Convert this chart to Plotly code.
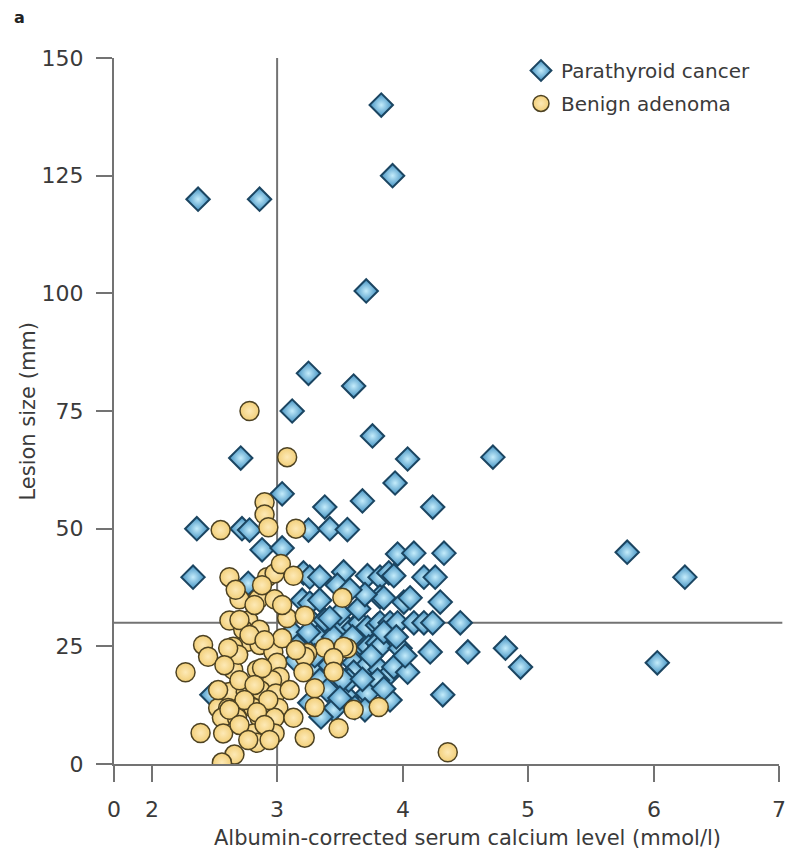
import plotly.graph_objects as go

# Parathyroid cancer: serum calcium (mmol/l) and lesion size (mm)
cancer_ca = [
    2.37, 2.86, 3.83, 3.92, 3.71, 3.25, 3.61, 3.12, 3.76, 2.71, 4.04, 4.72, 3.94, 3.04, 3.38, 3.68, 4.24,
    2.36, 2.72, 2.78, 3.25, 3.42, 3.56,
    2.88, 3.04, 3.96, 4.09, 4.33, 5.79,
    2.33, 2.77, 3.21, 3.26, 3.34, 3.53, 3.72, 3.82, 3.89, 3.93, 4.17, 4.26, 6.25,
    3.20, 3.26, 3.34, 3.82, 3.85, 4.01, 4.06, 4.30,
    3.12, 3.28, 3.38, 3.53, 3.54, 3.61, 3.66, 3.72, 3.80, 3.82, 3.90, 3.96, 4.09, 4.17, 4.24, 4.46,
    3.16, 3.32, 3.66, 3.73, 3.80, 3.82, 3.98, 4.22, 4.52, 4.82,
    3.29, 3.61, 3.72, 3.82, 3.90, 3.93, 4.04, 4.94, 6.03, 3.61,
    2.48, 3.34, 3.40, 3.56, 3.57, 3.72, 3.80, 3.90, 4.32, 3.45, 3.26, 3.35,
    3.15, 3.25, 3.45, 3.50, 3.65, 3.70, 3.48, 3.58, 3.42, 3.52, 3.68, 3.75,
    3.85, 3.95, 4.02, 3.42, 3.60, 3.30, 3.50, 3.62, 3.70, 3.85,
]
cancer_size = [
    120, 120, 140, 125, 100.5, 83, 80.3, 75, 69.7, 65, 64.8, 65.2, 59.7, 57.4, 54.6, 55.9, 54.6,
    50, 50, 49.7, 49.7, 50, 49.8,
    45.5, 45.9, 44.6, 44.8, 44.8, 45,
    39.7, 38.4, 40.6, 39.7, 39.7, 40.8, 40, 39.7, 40.6, 40, 39.7, 39.7, 39.7,
    34.8, 34.2, 34.8, 35.5, 35.3, 34.4, 35.3, 34.4,
    28, 30.2, 30.6, 29, 29.5, 29, 30, 29, 29.5, 30, 30, 30, 30, 30, 30, 30,
    25, 27, 25.7, 24.9, 25.7, 24.9, 24.6, 23.8, 23.8, 24.6,
    20.6, 21.5, 21, 20, 19.3, 20.6, 19.5, 20.6, 21.5, 19.5,
    14.7, 17.8, 15.7, 14.2, 17.8, 15, 17.8, 13.6, 14.7, 11.5, 13, 10,
    22, 28, 27, 32, 33, 36, 38, 37, 21, 18, 18, 23,
    28, 27, 23, 31, 27, 23, 14, 12, 11.5, 16,
]

# Benign adenoma: serum calcium (mmol/l) and lesion size (mm)
benign_ca = [
    2.78, 3.08, 2.90, 2.90, 2.93, 3.15, 2.55,
    2.62, 2.92, 2.98, 3.03, 3.13,
    2.70, 2.85, 2.98, 3.52,
    2.62, 2.77, 3.08, 3.22,
    2.73, 2.86, 2.77, 2.86,
    2.41, 2.45, 2.65, 2.65, 2.97, 3.04, 3.38, 3.56, 3.53, 3.24, 3.45, 3.22,
    2.27, 2.65, 2.84, 3.00, 3.21, 3.45, 3.02, 2.96, 2.70,
    2.62, 2.75, 2.87, 2.99, 3.30,
    2.53, 2.61, 2.70, 2.81, 2.92, 3.01, 3.30, 3.61, 3.81,
    2.56, 2.68, 2.86, 2.98, 3.13,
    2.39, 2.57, 2.81, 2.98, 3.22, 3.49,
    2.84, 2.66, 2.56, 4.36,
    2.67, 2.88, 2.82, 2.70, 2.78, 2.90, 2.69, 2.88, 2.70, 2.82, 2.93, 2.74,
    2.84, 2.62, 2.70, 2.90, 2.77, 2.94, 3.10, 3.15, 3.04, 2.61, 2.58, 2.53,
]
benign_size = [
    75, 65.2, 55.6, 53, 50.3, 50, 49.7,
    39.7, 39.7, 40.5, 42.5, 40,
    35, 35, 35, 35.3,
    30.5, 30.5, 31, 31.5,
    28.5, 28.5, 26, 25.3,
    25.3, 22.8, 24.9, 22.5, 23.8, 26.7, 24.7, 24.6, 24.9, 23.6, 22.5, 22.8,
    19.5, 20, 20, 21.5, 19.5, 19.6, 18.5, 17.8, 17.4,
    15.3, 15.3, 15.6, 15, 16.1,
    11.9, 11.9, 11.9, 11.9, 11.9, 11.9, 12.1, 11.5, 12.1,
    9.8, 9.8, 9.8, 9.8, 9.8,
    6.6, 6.5, 6.5, 6.5, 5.6, 7.6,
    4.5, 2, 0.3, 2.5,
    37, 38, 33.8, 30.6, 27.4, 26.3, 23.2, 20.4, 17.8, 16.8, 13.6, 13.6,
    11, 11.5, 8.3, 8.3, 5.1, 5.1, 15.7, 24.2, 33.8, 24.6, 21, 15.7,
]

# Axis ticks; the x axis is broken between 0 and 2
x_tickvals = [1.70, 2, 3, 4, 5, 6, 7]
x_ticktext = ["0", "2", "3", "4", "5", "6", "7"]
y_tickvals = [0, 25, 50, 75, 100, 125, 150]

# Threshold lines
ca_threshold = 3
size_threshold = 30

FONT = "DejaVu Sans"
AXIS_GREY = "#737373"
TEXT = "#3a3a3a"

fig = go.Figure()

fig.add_trace(go.Scatter(
    x=cancer_ca, y=cancer_size, mode="markers", name="Parathyroid cancer",
    legendgroup="cancer",
    marker=dict(symbol="diamond", size=18, color="#3f8fc0",
                gradient=dict(type="radial", color="#c4ecfb"),
                line=dict(color="#1b4561", width=2)),
))
fig.add_trace(go.Scatter(
    x=benign_ca, y=benign_size, mode="markers", name="Benign adenoma",
    legendgroup="benign",
    marker=dict(symbol="circle", size=19, color="#f2cf79",
                gradient=dict(type="radial", color="#fde9b6"),
                line=dict(color="#4d4222", width=1.5)),
))

fig.add_shape(type="line", xref="x", yref="y", x0=ca_threshold, x1=ca_threshold,
              y0=0, y1=150, line=dict(color=AXIS_GREY, width=2), layer="below")
fig.add_shape(type="line", xref="paper", yref="y", x0=0, x1=1.005,
              y0=size_threshold, y1=size_threshold,
              line=dict(color=AXIS_GREY, width=2), layer="below")

# x tick labels sit well below the long outside ticks
for val, txt in zip(x_tickvals, x_ticktext):
    fig.add_annotation(text=txt, xref="x", yref="paper", x=val, y=-0.065,
                       xanchor="center", yanchor="middle", showarrow=False,
                       font=dict(family=FONT, size=22, color=TEXT))

fig.add_annotation(text="<b>a</b>", xref="paper", yref="paper", x=-0.153, y=1.057,
                   xanchor="left", yanchor="middle", showarrow=False,
                   font=dict(family=FONT, size=16, color="#222"))
fig.add_annotation(text="Albumin-corrected serum calcium level (mmol/l)",
                   xref="paper", yref="paper", x=0.532, y=-0.105,
                   xanchor="center", yanchor="middle", showarrow=False,
                   font=dict(family=FONT, size=21, color=TEXT))
fig.add_annotation(text="Lesion size (mm)", textangle=-90,
                   xref="paper", yref="paper", x=-0.13, y=0.5,
                   xanchor="center", yanchor="middle", showarrow=False,
                   font=dict(family=FONT, size=21, color=TEXT))

fig.update_xaxes(
    range=[1.70, 7.0], tickvals=x_tickvals, showticklabels=False,
    showgrid=False, zeroline=False, showline=True, linecolor=AXIS_GREY, linewidth=2,
    ticks="outside", ticklen=16, tickwidth=2, tickcolor=AXIS_GREY,
)
fig.update_yaxes(
    range=[0, 150], tickvals=y_tickvals,
    showgrid=False, zeroline=False, showline=True, linecolor=AXIS_GREY, linewidth=2,
    ticks="outside", ticklen=16, tickwidth=2, tickcolor=AXIS_GREY,
    ticklabelstandoff=8,
    tickfont=dict(family=FONT, size=22, color=TEXT),
)

fig.update_layout(
    width=786, height=859,
    margin=dict(l=114, r=7, t=58, b=95),
    paper_bgcolor="white", plot_bgcolor="white",
    showlegend=True,
    legend=dict(x=0.612, y=1.01, xanchor="left", yanchor="top",
                bgcolor="rgba(0,0,0,0)", traceorder="grouped", tracegroupgap=4,
                font=dict(family=FONT, size=20, color=TEXT)),
)

fig.write_html("out.html")
